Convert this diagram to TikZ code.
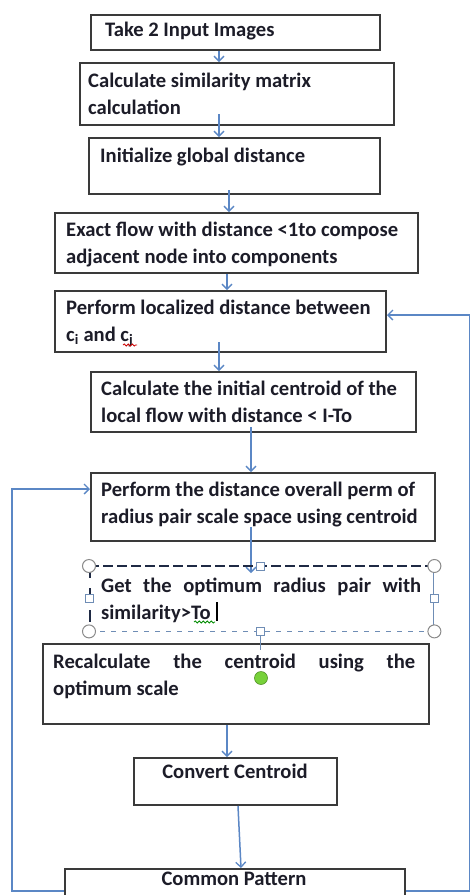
\documentclass[tikz,border=0pt]{standalone}
\usepackage{fontspec}
\setmainfont{Carlito}
\usetikzlibrary{arrows.meta,calc,decorations.pathmorphing}
\definecolor{boxc}{HTML}{3A3A3A}
\definecolor{flowc}{HTML}{5B87C5}
\definecolor{textc}{HTML}{1C1C28}
\definecolor{handlec}{HTML}{8A8A8A}
\definecolor{selc}{HTML}{6F8DB5}
\definecolor{selnavy}{HTML}{1F2A44}
\definecolor{rotc}{HTML}{77D13A}
\newcommand{\firstline}{\rule{0pt}{20pt}}
\tikzset{
  stepbox/.style={draw=boxc, line width=2pt, fill=white, inner sep=0, anchor=north west},
  txt/.style={font=\fontsize{20.6}{27}\selectfont\bfseries, text=textc, inner sep=0, anchor=north west, align=left},
  ctxt/.style={font=\fontsize{20.6}{27}\selectfont\bfseries, text=textc, inner sep=0, anchor=north, align=center},
  arr/.style={draw=flowc, line width=1.5pt, -{Straight Barb[length=5pt,width=10pt,line width=1.3pt]}},
  cornerh/.style={circle, draw=handlec, fill=white, line width=1pt, minimum size=13pt, inner sep=0},
  sideh/.style={rectangle, draw=selc, fill=white, line width=1pt, minimum size=8pt, inner sep=0},
}
\begin{document}
\begin{tikzpicture}[x=1pt,y=-1pt]
\useasboundingbox (0,0) rectangle (470,895);
\clip (0,0) rectangle (470,895);
\fill[white] (0,0) rectangle (470,895);

% process boxes
\node[stepbox, minimum width=289, minimum height=35] (b1) at (90,14) {};
\node[stepbox, minimum width=314, minimum height=62] (b2) at (79,62) {};
\node[stepbox, minimum width=291, minimum height=56] (b3) at (88,137) {};
\node[stepbox, minimum width=363, minimum height=60] (b4) at (54,212) {};
\node[stepbox, minimum width=331, minimum height=61] (b5) at (54,290) {};
\node[stepbox, minimum width=325, minimum height=60] (b6) at (90,371) {};
\node[stepbox, minimum width=344, minimum height=68] (b7) at (90,472) {};
\node[inner sep=0, minimum width=345, minimum height=65, anchor=north west] (b8) at (89,566) {};
\node[stepbox, minimum width=386, minimum height=80] (b9) at (42,643) {};
\node[stepbox, minimum width=203, minimum height=47] (b10) at (133,757) {};
\node[stepbox, minimum width=340, minimum height=44] (b11) at (64,868) {};

% box texts
\node[txt] (t1) at (105,16) {\firstline Take 2 Input Images};
\node[txt] (t2) at (88,67) {\firstline Calculate similarity matrix\\calculation};
\node[txt] (t3) at (100,142) {\firstline Initialize global distance};
\node[txt] (t4) at (66,216) {\firstline Exact flow with distance <1to compose\\adjacent node into components};
\node[txt] (t5) at (66,294) {\firstline Perform localized distance between\\c\textsubscript{i} and c\textsubscript{j}};
\node[txt] (t6) at (101,375) {\firstline Calculate the initial centroid of the\\local flow with distance < I-To};
\node[txt] (t7) at (101,476) {\firstline Perform the distance overall perm of\\radius pair scale space using centroid};
\node[txt] (t8) at (101,572) {\firstline\makebox[320pt][s]{Get the optimum radius pair with}\\similarity>To};
\node[txt] (t9) at (53,648) {\firstline\makebox[362pt][s]{Recalculate the centroid using the}\\optimum scale};
\node[ctxt] (t10) at (235,758) {\firstline Convert Centroid};
\node[ctxt] (t11) at (234,865) {\firstline Common Pattern};

% main flow
\draw[arr] (b1.south -| 219,0) -- (b2.north -| 219,0);
\draw[arr] ($(b2.south -| 219,0)+(0,-12)$) -- (b3.north -| 219,0);
\draw[arr] ($(b3.south -| 229,0)+(0,-5)$) -- (b4.north -| 229,0);
\draw[arr] (b4.south -| 227,0) -- (b5.north -| 227,0);
\draw[arr] ($(b5.south -| 219,0)+(0,-11)$) -- (b6.north -| 219,0);
\draw[arr] ($(b6.south -| 251,0)+(0,-6)$) -- (b7.north -| 251,0);
\draw[arr] ($(b7.south -| 251,0)+(0,-15)$) -- ($(b8.north -| 251,0)+(0,7)$);
\draw[arr] (b9.south -| 227,0) -- (b10.north -| 227,0);
\draw[arr] (b10.south -| 238,0) -- (b11.north -| 241,0);

% feedback loops
\draw[arr] (b11.west) -- ++(-52,0) |- ($(b7.north west)+(0,17)$);
\draw[arr] (b11.east) -- ++(64,0) |- ($(b5.north east)+(0,25)$);

% selection frame of the text box
\draw[selnavy, line width=2pt, dash pattern=on 10pt off 4pt] (b8.north west) -- (b8.north east);
\draw[selc, line width=1.2pt, dash pattern=on 5pt off 6pt] (b8.south west) -- (b8.south east);
\draw[selnavy, line width=1.5pt, dash pattern=on 12pt off 10pt] ([xshift=1pt]b8.north west) -- ([xshift=1pt]b8.south west);
\draw[selc, line width=1pt] ([xshift=-1pt]b8.north east) -- ([xshift=-1pt]b8.south east);
\draw[selc, line width=1pt] (b8.south -| 260,0) -- ($(b8.south -| 260,0)+(0,19)$);
\foreach \a in {north west, north east, south west, south east}
  \node[cornerh] at (b8.\a) {};
\node[sideh] (hn) at (b8.north -| 260,0) {};
\node[sideh] (hs) at (b8.south -| 260,0) {};
\node[sideh] (hw) at (b8.west) {};
\node[sideh] (he) at (b8.east) {};
\node[circle, fill=rotc, draw=rotc!70!black, line width=0.6pt, minimum size=13pt, inner sep=0] (rot) at (261,678) {};

% text cursor and proofing marks
\draw[black, line width=1.6pt] (217,602) -- (217,621);
\draw[green!55!black, line width=0.8pt, decorate, decoration={snake, amplitude=1pt, segment length=4pt}] (194,622) -- (215,622);
\draw[red!80!black, line width=0.8pt, decorate, decoration={snake, amplitude=1pt, segment length=4pt}] (123,345) -- (137,345);
\end{tikzpicture}
\end{document}
